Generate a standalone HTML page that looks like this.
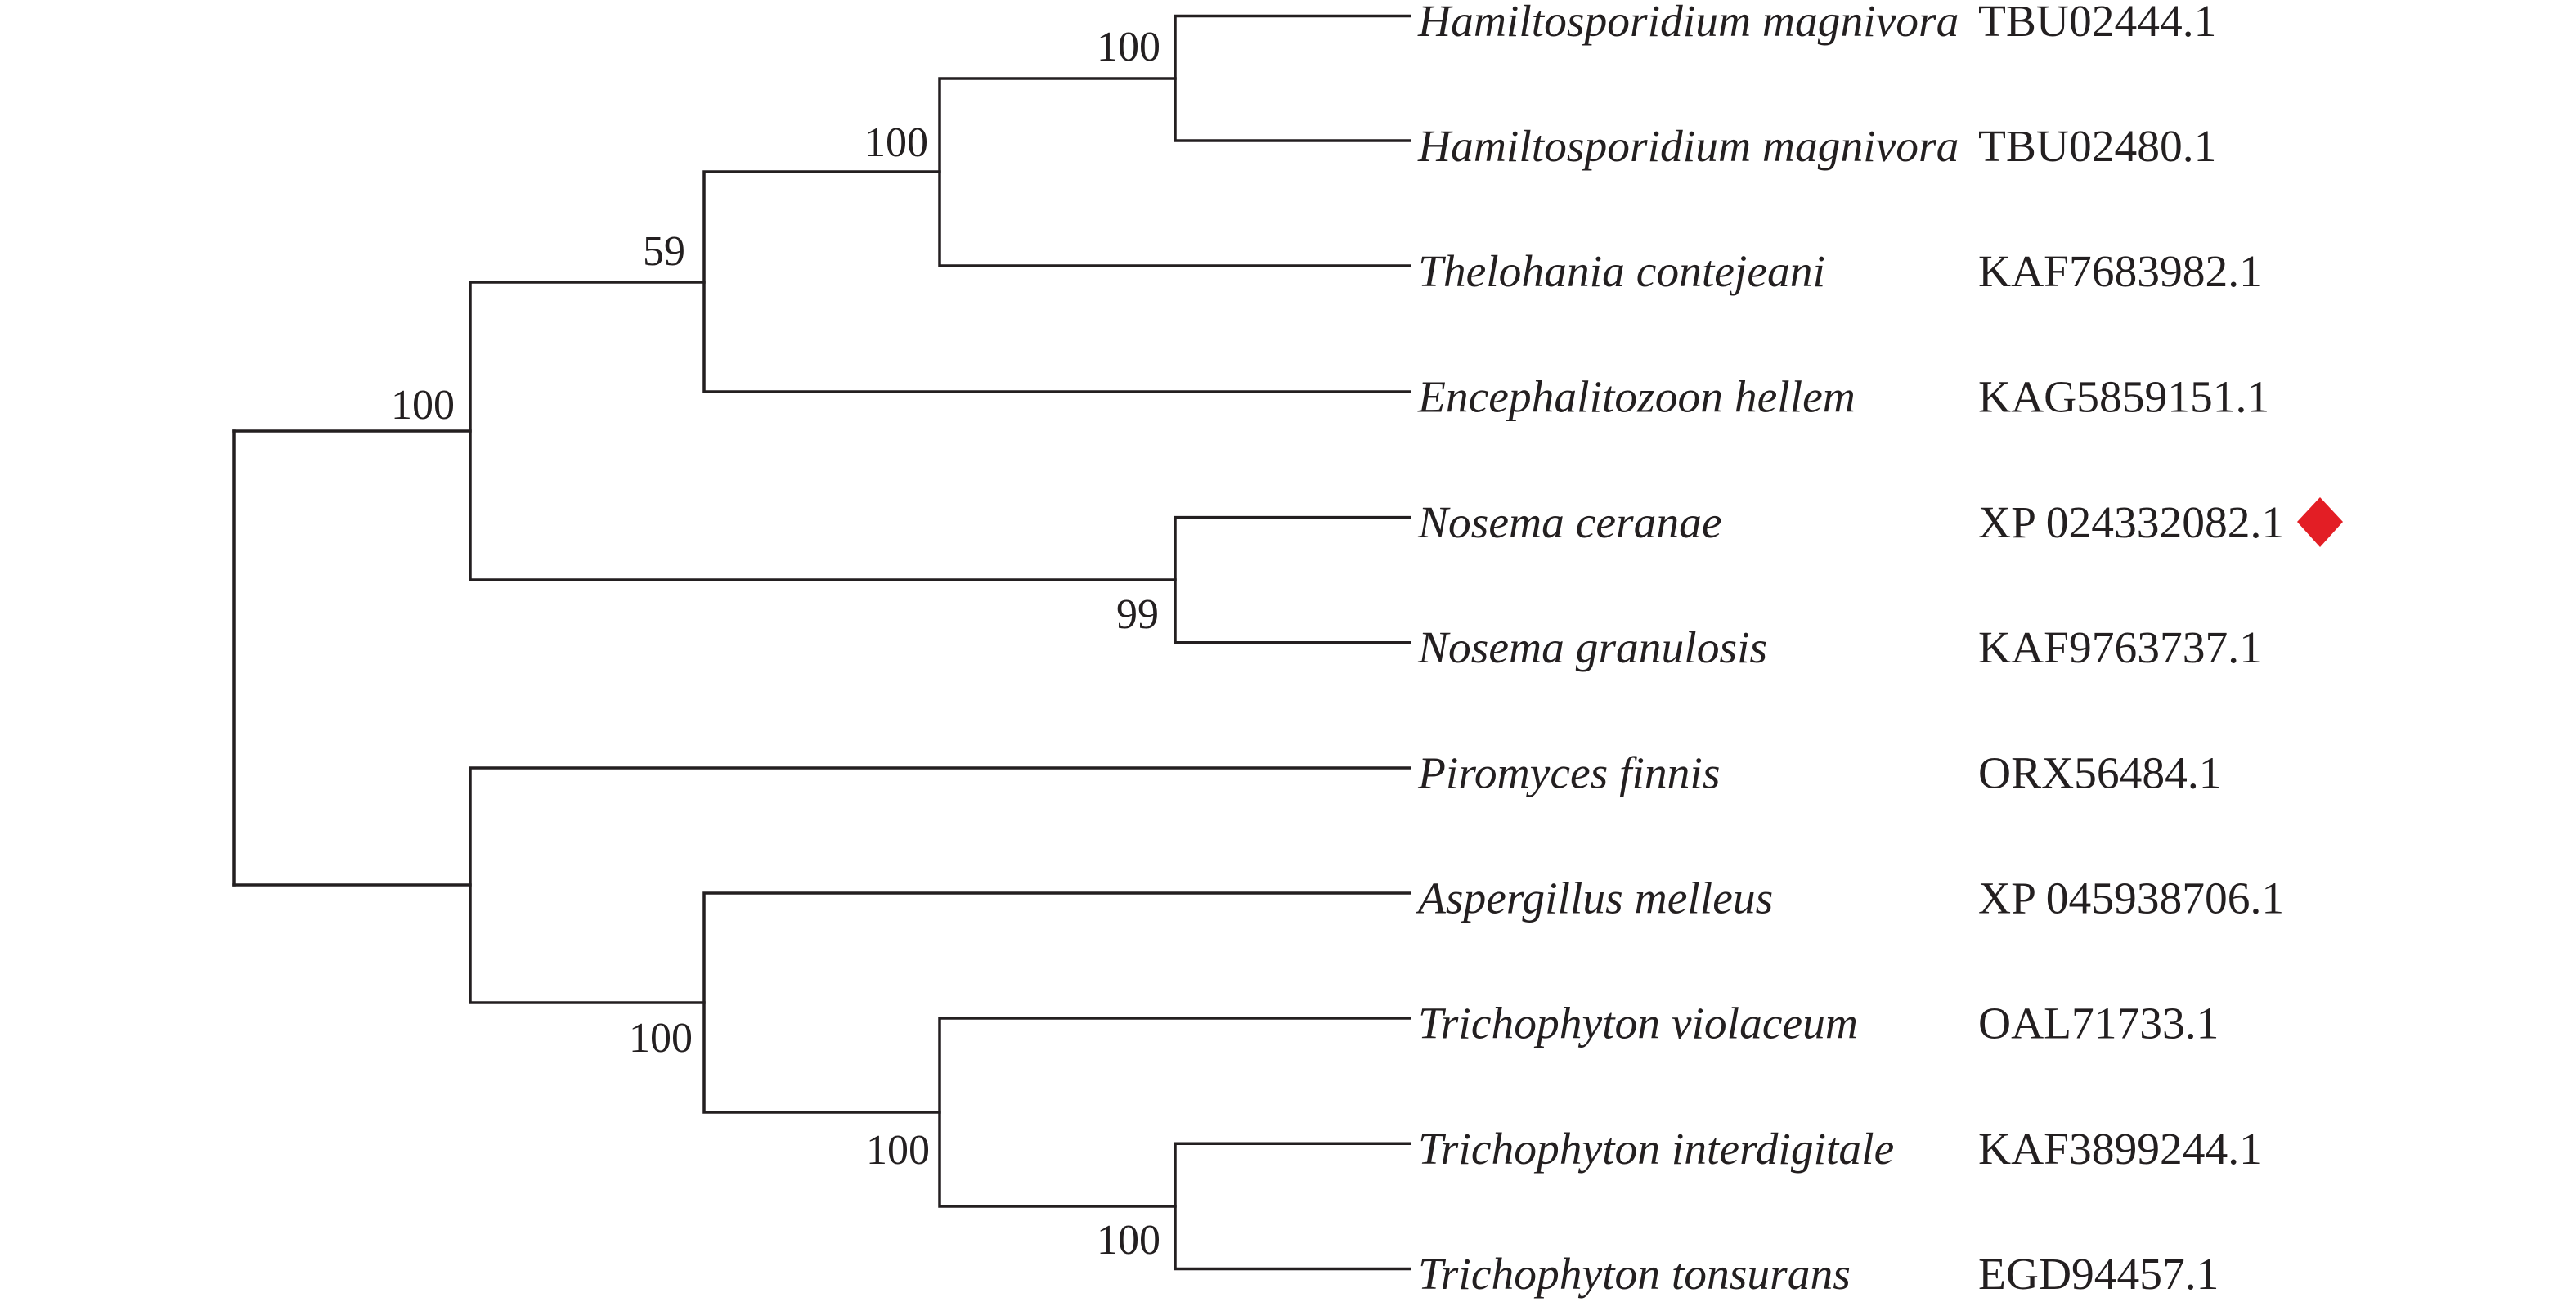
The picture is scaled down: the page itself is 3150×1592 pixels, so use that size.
<!DOCTYPE html>
<html><head><meta charset="utf-8"><style>
html,body{margin:0;padding:0;background:#fff;}
svg{display:block;}
text{font-family:"Liberation Serif",serif;font-size:52px;fill:#231f20;}
.lf{font-size:55.5px;}
.sp{font-style:italic;}
</style></head><body>
<svg width="3150" height="1592" viewBox="0 0 3150 1592" xmlns="http://www.w3.org/2000/svg">
<g stroke="#231f20" stroke-width="3.5" fill="none" stroke-linecap="square">
<path d="M286 527 V1082"/>
<path d="M286 527 H575"/>
<path d="M286 1082 H575"/>
<path d="M575 345 V709"/>
<path d="M575 345 H861"/>
<path d="M575 709 H1437"/>
<path d="M861 210 V479 M861 479 H1724 M861 210 H1149"/>
<path d="M1149 96 V325 M1149 325 H1724 M1149 96 H1437"/>
<path d="M1437 19.5 V172 M1437 19.5 H1724 M1437 172 H1724"/>
<path d="M1437 632.6 V785.7 M1437 632.6 H1724 M1437 785.7 H1724"/>
<path d="M575 939 V1226 M575 939 H1724 M575 1226 H861"/>
<path d="M861 1092 V1360 M861 1092 H1724 M861 1360 H1149"/>
<path d="M1149 1245 V1475 M1149 1245 H1724 M1149 1475 H1437"/>
<path d="M1437 1398.3 V1551.5 M1437 1398.3 H1724 M1437 1551.5 H1724"/>
</g>
<g text-anchor="end">
<text x="1419" y="74">100</text>
<text x="1135" y="191">100</text>
<text x="838" y="324">59</text>
<text x="556" y="512">100</text>
<text x="1417" y="768">99</text>
<text x="847" y="1286">100</text>
<text x="1137" y="1423">100</text>
<text x="1419" y="1533">100</text>
</g>
<g class="lf">
<text class="sp lf" x="1734" y="44">Hamiltosporidium magnivora</text>
<text class="sp lf" x="1734" y="197">Hamiltosporidium magnivora</text>
<text class="sp lf" x="1734" y="350">Thelohania contejeani</text>
<text class="sp lf" x="1734" y="503.5">Encephalitozoon hellem</text>
<text class="sp lf" x="1734" y="657">Nosema ceranae</text>
<text class="sp lf" x="1734" y="810">Nosema granulosis</text>
<text class="sp lf" x="1734" y="963.5">Piromyces finnis</text>
<text class="sp lf" x="1734" y="1116.5">Aspergillus melleus</text>
<text class="sp lf" x="1734" y="1269.5">Trichophyton violaceum</text>
<text class="sp lf" x="1734" y="1423">Trichophyton interdigitale</text>
<text class="sp lf" x="1734" y="1576">Trichophyton tonsurans</text>
</g>
<g>
<text class="lf" x="2419" y="44">TBU02444.1</text>
<text class="lf" x="2419" y="197">TBU02480.1</text>
<text class="lf" x="2419" y="350">KAF7683982.1</text>
<text class="lf" x="2419" y="503.5">KAG5859151.1</text>
<text class="lf" x="2419" y="657">XP 024332082.1</text>
<text class="lf" x="2419" y="810">KAF9763737.1</text>
<text class="lf" x="2419" y="963.5">ORX56484.1</text>
<text class="lf" x="2419" y="1116.5">XP 045938706.1</text>
<text class="lf" x="2419" y="1269.5">OAL71733.1</text>
<text class="lf" x="2419" y="1423">KAF3899244.1</text>
<text class="lf" x="2419" y="1576">EGD94457.1</text>
</g>
<polygon points="2837,608 2865,638 2837,669 2809,638" fill="#e31e25"/>
</svg>
</body></html>
